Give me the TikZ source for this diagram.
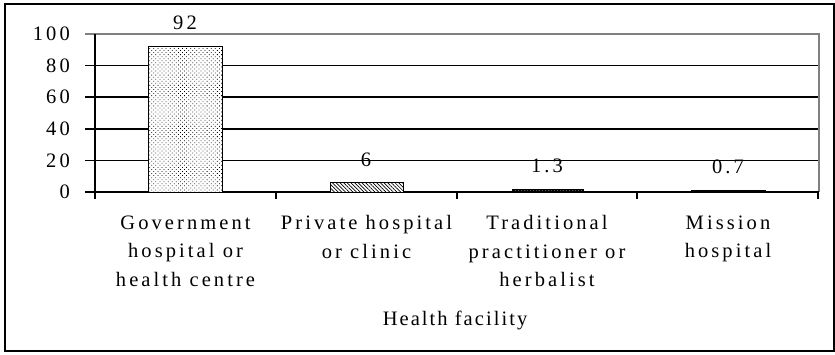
\documentclass[tikz,border=0pt]{standalone}
\usepackage{fontspec}
\setmainfont{Liberation Serif}[LetterSpace=15]
\usetikzlibrary{patterns.meta}
\tikzset{
  grid/.style={line width=1.6pt, black},
  frameline/.style={line width=1.6pt, gray},
  bar/.style={draw=black, line width=1pt},
  lbl/.style={inner sep=0pt, font=\fontsize{20.5}{28.2}\selectfont},
  cat/.style={lbl, align=center, anchor=north},
}
\begin{document}
\begin{tikzpicture}[x=1pt,y=-1pt]
\useasboundingbox (0,0) rectangle (835,354);
% outer frame
\draw[line width=2pt] (5,4) rectangle (833.5,351);
% gridlines
\foreach \v in {20,40,60,80}{
  \draw[grid] (85,{192-1.58*\v}) -- (819,{192-1.58*\v});
}
% plot area border (grey)
\draw[frameline] (85,34) -- (819,34) -- (819,192);
% axes
\draw[grid] (95,34) -- (95,192);
\draw[grid] (85,192) -- (819,192);
\foreach \x in {95,276,457,637,818}{
  \draw[grid] (\x,192) -- (\x,199);
}
% y tick labels
\foreach \v in {0,20,40,60,80,100}{
  \node[lbl, anchor=east] (y\v) at (70,{192-1.58*\v}) {\v};
}
% bars
\fill[white] (148,192) rectangle (222,{192-1.58*92});
\draw[bar, pattern={Dots[angle=45, distance=2.9pt, radius=0.55pt]}] (148,192) rectangle (222,{192-1.58*92});
\fill[white] (330,192) rectangle (403,{192-1.58*6});
\draw[bar, pattern={Lines[angle=-45, distance=2.6pt, line width=0.7pt]}] (330,192) rectangle (403,{192-1.58*6});
\draw[bar, pattern={Lines[angle=0, distance=1.5pt, line width=0.5pt]}] (512,192) rectangle (583,{192-1.58*1.3});
\draw[bar, line width=1.6pt, fill=black] (692,192) rectangle (765,{192-1.58*0.7});
% value labels
\node[lbl] (v1) at (185,23) {92};
\node[lbl] (v2) at (366,160) {6};
\node[lbl] (v3) at (547,166) {1.3};
\node[lbl] (v4) at (728,167) {0.7};
% category labels
\node[cat] (c1) at (185.5,215.5) {\rule{0pt}{14pt}Government\\hospital or\\health centre};
\node[cat] (c2) at (366.5,215.5) {\rule{0pt}{14pt}Private hospital\\or clinic};
\node[cat] (c3) at (547,215.5) {\rule{0pt}{14pt}Traditional\\practitioner or\\herbalist};
\node[cat] (c4) at (728,215.5) {\rule{0pt}{14pt}Mission\\hospital};
% axis title
\node[cat] (xt) at (455,311) {\rule{0pt}{14pt}\addfontfeature{LetterSpace=10}Health facility};
\end{tikzpicture}
\end{document}
